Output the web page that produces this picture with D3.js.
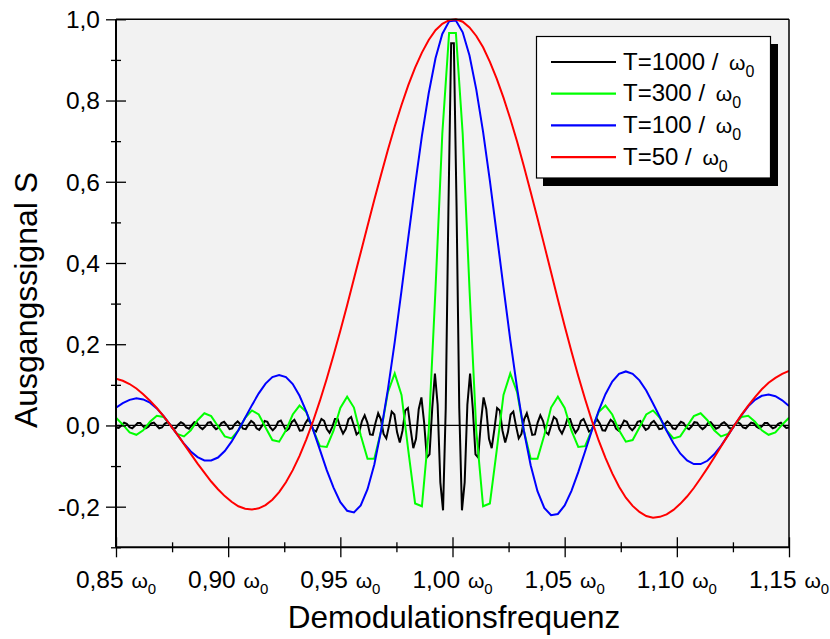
<!DOCTYPE html>
<html>
<head>
<meta charset="utf-8">
<script src="https://cdn.jsdelivr.net/npm/d3@7"></script>
<style>
  body { margin: 0; background: #ffffff; }
  svg { display: block; }
  text { font-family: "Liberation Sans", Arial, Helvetica, sans-serif; fill: #000; }
</style>
</head>
<body>
<svg id="chart" width="830" height="639"></svg>
<script>
// ---- data -----------------------------------------------------------------
const seriesLabels = ["T=1000 / ", "T=300 / ", "T=100 / ", "T=50 / "];
const seriesColors = ["#000000", "#00ff00", "#0000ff", "#ff0000"];

const xMajorTicks = [0.85, 0.90, 0.95, 1.00, 1.05, 1.10, 1.15];
const xTickLabels = ["0,85", "0,90", "0,95", "1,00", "1,05", "1,10", "1,15"];
const xMinorTicks = [0.875, 0.925, 0.975, 1.025, 1.075, 1.125];
const yMajorTicks = [-0.2, 0.0, 0.2, 0.4, 0.6, 0.8, 1.0];
const yTickLabels = ["-0,2", "0,0", "0,2", "0,4", "0,6", "0,8", "1,0"];
const yMinorTicks = [-0.3, -0.1, 0.1, 0.3, 0.5, 0.7, 0.9];

// frequency samples (in units of omega_0) for the coarse and the fine curves
const freqs100 = d3.range(100).map(k => 0.85 + k * 0.3 / 99);
const freqs250 = d3.range(250).map(k => 0.85 + k * 0.3 / 249);

// T = 1000 / omega_0 (250 samples)
const signalT1000 = [
  -0.005, -0.006, 0.000, 0.007, 0.004,
  -0.004, -0.007, -0.001, 0.006, 0.006, -0.002, -0.007, -0.003, 0.005, 0.007,
  0.000, -0.007, -0.005, 0.004, 0.008, 0.002, -0.007, -0.007, 0.002, 0.008,
  0.004, -0.005, -0.008, 0.000, 0.008, 0.006, -0.004, -0.009, -0.003, 0.007,
  0.008, -0.002, -0.009, -0.005, 0.006, 0.009, 0.001, -0.009, -0.007, 0.004,
  0.010, 0.003, -0.008, -0.009, 0.002, 0.011, 0.006, -0.007, -0.011, -0.001,
  0.011, 0.009, -0.004, -0.012, -0.005, 0.009, 0.012, -0.001, -0.013, -0.008,
  0.008, 0.014, 0.002, -0.013, -0.012, 0.005, 0.015, 0.006, -0.011, -0.015,
  0.001, 0.016, 0.011, -0.009, -0.018, -0.004, 0.016, 0.016, -0.005, -0.020,
  -0.009, 0.015, 0.021, 0.000, -0.022, -0.016, 0.011, 0.025, 0.007, -0.022,
  -0.023, 0.006, 0.030, 0.015, -0.021, -0.032, -0.001, 0.034, 0.027, -0.017,
  -0.042, -0.013, 0.037, 0.043, -0.009, -0.056, -0.033, 0.040, 0.069, 0.007,
  -0.079, -0.071, 0.042, 0.128, 0.051, -0.140, -0.209, 0.043, 0.538, 0.941,
  0.941, 0.538, 0.043, -0.209, -0.140, 0.051, 0.128, 0.042, -0.071, -0.079,
  0.007, 0.069, 0.040, -0.033, -0.056, -0.009, 0.043, 0.037, -0.013, -0.042,
  -0.017, 0.027, 0.034, -0.001, -0.032, -0.021, 0.015, 0.030, 0.006, -0.023,
  -0.022, 0.007, 0.025, 0.011, -0.016, -0.022, 0.000, 0.021, 0.015, -0.009,
  -0.020, -0.005, 0.016, 0.016, -0.004, -0.018, -0.009, 0.011, 0.016, 0.001,
  -0.015, -0.011, 0.006, 0.015, 0.005, -0.012, -0.013, 0.002, 0.014, 0.008,
  -0.008, -0.013, -0.001, 0.012, 0.009, -0.005, -0.012, -0.004, 0.009, 0.011,
  -0.001, -0.011, -0.007, 0.006, 0.011, 0.002, -0.009, -0.008, 0.003, 0.010,
  0.004, -0.007, -0.009, 0.001, 0.009, 0.006, -0.005, -0.009, -0.002, 0.008,
  0.007, -0.003, -0.009, -0.004, 0.006, 0.008, 0.000, -0.008, -0.005, 0.004,
  0.008, 0.002, -0.007, -0.007, 0.002, 0.008, 0.004, -0.005, -0.007, 0.000,
  0.007, 0.005, -0.003, -0.007, -0.002, 0.006, 0.006, -0.001, -0.007, -0.004,
  0.004, 0.007, 0.000, -0.006, -0.005
];

// T = 300 / omega_0 (100 samples)
const signalT300 = [
  0.019, 0.002, -0.017, -0.023, -0.012, 0.009, 0.024, 0.021, 0.001, -0.021,
  -0.027, -0.012, 0.013, 0.030, 0.023, -0.002, -0.027, -0.032, -0.012, 0.019,
  0.037, 0.027, -0.005, -0.036, -0.040, -0.012, 0.027, 0.049, 0.033, -0.011,
  -0.051, -0.053, -0.013, 0.043, 0.071, 0.044, -0.024, -0.082, -0.082, -0.013,
  0.082, 0.128, 0.075, -0.062, -0.192, -0.199, -0.013, 0.336, 0.718, 0.966,
  0.966, 0.718, 0.336, -0.013, -0.199, -0.192, -0.062, 0.075, 0.128, 0.082,
  -0.013, -0.082, -0.082, -0.024, 0.044, 0.071, 0.043, -0.013, -0.053, -0.051,
  -0.011, 0.033, 0.049, 0.027, -0.012, -0.040, -0.036, -0.005, 0.027, 0.037,
  0.019, -0.012, -0.032, -0.027, -0.002, 0.023, 0.030, 0.013, -0.012, -0.027,
  -0.021, 0.001, 0.021, 0.024, 0.009, -0.012, -0.023, -0.017, 0.002, 0.019
];

// T = 100 / omega_0 (100 samples)
const signalT100 = [
  0.044, 0.055, 0.063, 0.067, 0.064, 0.056, 0.042, 0.023, 0.001, -0.022,
  -0.045, -0.064, -0.078, -0.086, -0.086, -0.079, -0.063, -0.040, -0.012, 0.019,
  0.050, 0.079, 0.103, 0.119, 0.124, 0.119, 0.102, 0.073, 0.034, -0.011,
  -0.060, -0.110, -0.153, -0.189, -0.210, -0.214, -0.197, -0.157, -0.096, -0.012,
  0.089, 0.205, 0.332, 0.463, 0.592, 0.713, 0.818, 0.904, 0.964, 0.995,
  0.997, 0.968, 0.911, 0.827, 0.723, 0.602, 0.472, 0.340, 0.211, 0.092,
  -0.013, -0.098, -0.162, -0.203, -0.221, -0.218, -0.197, -0.161, -0.115, -0.064,
  -0.012, 0.036, 0.077, 0.108, 0.127, 0.133, 0.127, 0.111, 0.086, 0.054,
  0.021, -0.013, -0.044, -0.069, -0.086, -0.095, -0.095, -0.087, -0.071, -0.050,
  -0.025, 0.001, 0.025, 0.047, 0.063, 0.073, 0.076, 0.072, 0.062, 0.048
];

// T = 50 / omega_0 (100 samples)
const signalT50 = [
  0.115, 0.110, 0.102, 0.091, 0.077, 0.061, 0.043, 0.023, 0.001, -0.022,
  -0.046, -0.070, -0.094, -0.116, -0.138, -0.157, -0.174, -0.188, -0.199, -0.205,
  -0.207, -0.204, -0.196, -0.183, -0.164, -0.140, -0.110, -0.075, -0.034, 0.011,
  0.061, 0.115, 0.173, 0.233, 0.296, 0.361, 0.426, 0.491, 0.556, 0.618,
  0.679, 0.736, 0.789, 0.838, 0.881, 0.918, 0.949, 0.973, 0.989, 0.998,
  1.000, 0.994, 0.980, 0.959, 0.931, 0.895, 0.854, 0.807, 0.755, 0.699,
  0.638, 0.575, 0.510, 0.444, 0.377, 0.310, 0.245, 0.182, 0.122, 0.065,
  0.012, -0.037, -0.080, -0.118, -0.151, -0.178, -0.198, -0.213, -0.223, -0.227,
  -0.225, -0.219, -0.208, -0.193, -0.175, -0.154, -0.130, -0.105, -0.079, -0.052,
  -0.025, 0.001, 0.026, 0.049, 0.070, 0.089, 0.105, 0.117, 0.127, 0.134
];

const series = [
  { freqs: freqs250, values: signalT1000 },
  { freqs: freqs100, values: signalT300 },
  { freqs: freqs100, values: signalT100 },
  { freqs: freqs100, values: signalT50 }
];

// ---- layout ---------------------------------------------------------------
const plot = { left: 116, right: 789, top: 19.3, bottom: 547.3 };
const svg = d3.select("#chart");

const x = d3.scaleLinear().domain([0.85, 1.15]).range([plot.left, plot.right]);
const y = d3.scaleLinear().domain([-0.3, 1.0]).range([plot.bottom, plot.top]);

// plot background
svg.append("rect")
  .attr("x", plot.left).attr("y", plot.top)
  .attr("width", plot.right - plot.left).attr("height", plot.bottom - plot.top)
  .attr("fill", "#f2f2f2");

svg.append("defs").append("clipPath").attr("id", "plotClip")
  .append("rect")
  .attr("x", plot.left).attr("y", plot.top - 2)
  .attr("width", plot.right - plot.left).attr("height", plot.bottom - plot.top + 4);

// zero line
svg.append("line")
  .attr("x1", x(0.85)).attr("x2", x(1.15))
  .attr("y1", y(0)).attr("y2", y(0))
  .attr("stroke", "#000").attr("stroke-width", 1.3);

// curves
const line = d3.line().x(d => x(d[0])).y(d => y(d[1]));
const curves = svg.append("g").attr("clip-path", "url(#plotClip)");
series.forEach((s, i) => {
  curves.append("path")
    .datum(s.freqs.map((f, k) => [f, s.values[k]]))
    .attr("d", line)
    .attr("fill", "none")
    .attr("stroke", seriesColors[i])
    .attr("stroke-width", 2);
});

// frame: top and right border
svg.append("line")
  .attr("x1", plot.left).attr("x2", plot.right)
  .attr("y1", plot.top).attr("y2", plot.top)
  .attr("stroke", "#000").attr("stroke-width", 1.5);
svg.append("line")
  .attr("x1", plot.right).attr("x2", plot.right)
  .attr("y1", plot.top).attr("y2", plot.bottom)
  .attr("stroke", "#000").attr("stroke-width", 1.5);

// axes (ticks cross the axis line)
function crossTicks(g, half, horizontal) {
  g.select(".domain").remove();
  g.selectAll(".tick line")
    .attr("stroke", "#000").attr("stroke-width", 1.3)
    .attr(horizontal ? "x1" : "y1", -half)
    .attr(horizontal ? "x2" : "y2", half);
  g.selectAll(".tick text").remove();
}

svg.append("g").attr("transform", `translate(${plot.left},0)`)
  .call(d3.axisLeft(y).tickValues(yMajorTicks).tickSize(10))
  .call(g => crossTicks(g, 10, true));
svg.append("g").attr("transform", `translate(${plot.left},0)`)
  .call(d3.axisLeft(y).tickValues(yMinorTicks).tickSize(5))
  .call(g => crossTicks(g, 5, true));
svg.append("g").attr("transform", `translate(0,${plot.bottom})`)
  .call(d3.axisBottom(x).tickValues(xMajorTicks).tickSize(10))
  .call(g => crossTicks(g, 10, false));
svg.append("g").attr("transform", `translate(0,${plot.bottom})`)
  .call(d3.axisBottom(x).tickValues(xMinorTicks).tickSize(5))
  .call(g => crossTicks(g, 5, false));

svg.append("line")
  .attr("x1", plot.left).attr("x2", plot.left)
  .attr("y1", plot.top).attr("y2", plot.bottom)
  .attr("stroke", "#000").attr("stroke-width", 2);
svg.append("line")
  .attr("x1", plot.left).attr("x2", plot.right)
  .attr("y1", plot.bottom).attr("y2", plot.bottom)
  .attr("stroke", "#000").attr("stroke-width", 2);

// y tick labels
svg.append("g").selectAll("text")
  .data(yMajorTicks)
  .join("text")
  .attr("x", 100)
  .attr("y", d => y(d))
  .attr("dy", "0.36em")
  .attr("text-anchor", "end")
  .attr("font-size", 24.5)
  .text((d, i) => yTickLabels[i]);

// x tick labels with omega_0
const xl = svg.append("g").selectAll("text")
  .data(xMajorTicks)
  .join("text")
  .attr("x", d => x(d))
  .attr("y", 588)
  .attr("text-anchor", "middle")
  .attr("font-size", 24.5);
xl.append("tspan").text((d, i) => xTickLabels[i] + " ");
xl.append("tspan").attr("font-size", 21).attr("dx", 1).text("ω");
xl.append("tspan").attr("font-size", 15).attr("dy", 6).text("0");

// axis titles
svg.append("text")
  .attr("x", 454).attr("y", 628)
  .attr("text-anchor", "middle")
  .attr("font-size", 31.5)
  .text("Demodulationsfrequenz");
svg.append("text")
  .attr("transform", "translate(37,300) rotate(-90)")
  .attr("text-anchor", "middle")
  .attr("font-size", 32)
  .text("Ausgangssignal S");

// legend
const legend = svg.append("g");
legend.append("rect")
  .attr("x", 543).attr("y", 44).attr("width", 235).attr("height", 142)
  .attr("fill", "#000");
legend.append("rect")
  .attr("x", 536.5).attr("y", 36.5).attr("width", 234).attr("height", 141.5)
  .attr("fill", "#fff").attr("stroke", "#000").attr("stroke-width", 1.2);

seriesLabels.forEach((lab, i) => {
  const ly = 62 + i * 31.7;
  legend.append("line")
    .attr("x1", 551).attr("x2", 616)
    .attr("y1", ly).attr("y2", ly)
    .attr("stroke", seriesColors[i]).attr("stroke-width", 2.2);
  const t = legend.append("text")
    .attr("x", 623).attr("y", ly + 7.6)
    .attr("font-size", 24);
  t.append("tspan").text(lab);
  t.append("tspan").attr("font-size", 21).attr("dx", 4).text("ω");
  t.append("tspan").attr("font-size", 16).attr("dy", 7).text("0");
});
</script>
</body>
</html>
